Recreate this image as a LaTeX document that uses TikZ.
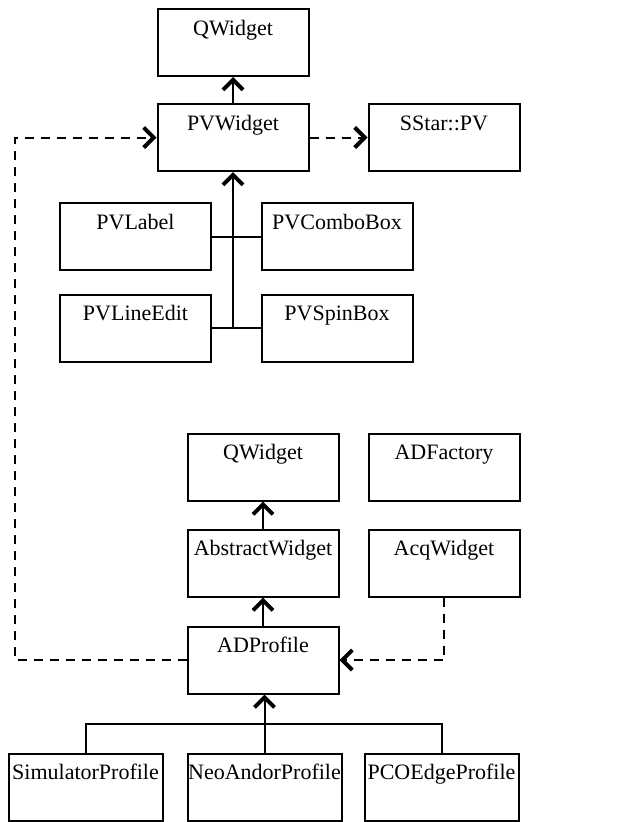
\documentclass[tikz,border=0pt]{standalone}
\usepackage{fontspec}
\setmainfont{Liberation Serif}
\usetikzlibrary{arrows.meta}
\begin{document}
\begin{tikzpicture}[x=1pt,y=-1pt,
  cls/.style={draw,line width=2pt,minimum width=151pt,inner xsep=0pt,inner ysep=0pt,
    text height=26pt,text depth=41pt,font=\fontsize{22}{26}\selectfont},
  wcls/.style={cls,minimum width=154pt},
  link/.style={line width=2pt},
  tip/.style={-{Straight Barb[length=10pt,width=20pt,line width'=4pt]}},
  dep/.style={link,dash pattern=on 9pt off 7pt}]
\useasboundingbox (0,0) rectangle (632,822);
\node[cls] (qw1) at (233,42.5) {QWidget};
\node[cls] (pvw) at (233,137.5) {PVWidget};
\node[cls] (sstar) at (444,137.5) {SStar::PV};
\node[cls] (pvlabel) at (135.5,236.5) {PVLabel};
\node[cls] (pvcombo) at (337,236.5) {PVComboBox};
\node[cls] (pvline) at (135.5,328) {PVLineEdit};
\node[cls] (pvspin) at (337,328) {PVSpinBox};
\node[cls] (qw2) at (263,467) {QWidget};
\node[cls] (adfact) at (444,467) {ADFactory};
\node[cls] (absw) at (263,563) {AbstractWidget};
\node[cls] (acqw) at (444,563) {AcqWidget};
\node[cls] (adprof) at (263,660) {ADProfile};
\node[wcls] (sim) at (85.5,787) {SimulatorProfile};
\node[wcls] (neo) at (264.5,787) {NeoAndorProfile};
\node[wcls] (pco) at (441.5,787) {PCOEdgeProfile};
% PV hierarchy
\draw[link,tip] (pvw) -- (qw1);
\draw[dep,tip] (pvw) -- (sstar);
\draw[link] (pvlabel.east) -- (pvcombo.west);
\draw[link] (pvline.east) -- (pvspin.west);
\coordinate (pvj) at (233,328);
\draw[link,tip] (pvj) -- (pvw.south);
% AD hierarchy
\draw[link,tip] (absw) -- (qw2);
\draw[link,tip] (adprof) -- (absw);
\coordinate (bj) at (85.5,724);
\draw[link] (sim.north) -- (bj) -| (pco.north);
\draw[link,tip] (neo.north) -- (neo.north |- adprof.south);
\coordinate (lc) at (15,660);
\draw[dep,tip] (adprof.west) -- (lc) |- (pvw.west);
\draw[dep,tip] (acqw.south) |- (adprof.east);
\end{tikzpicture}
\end{document}
